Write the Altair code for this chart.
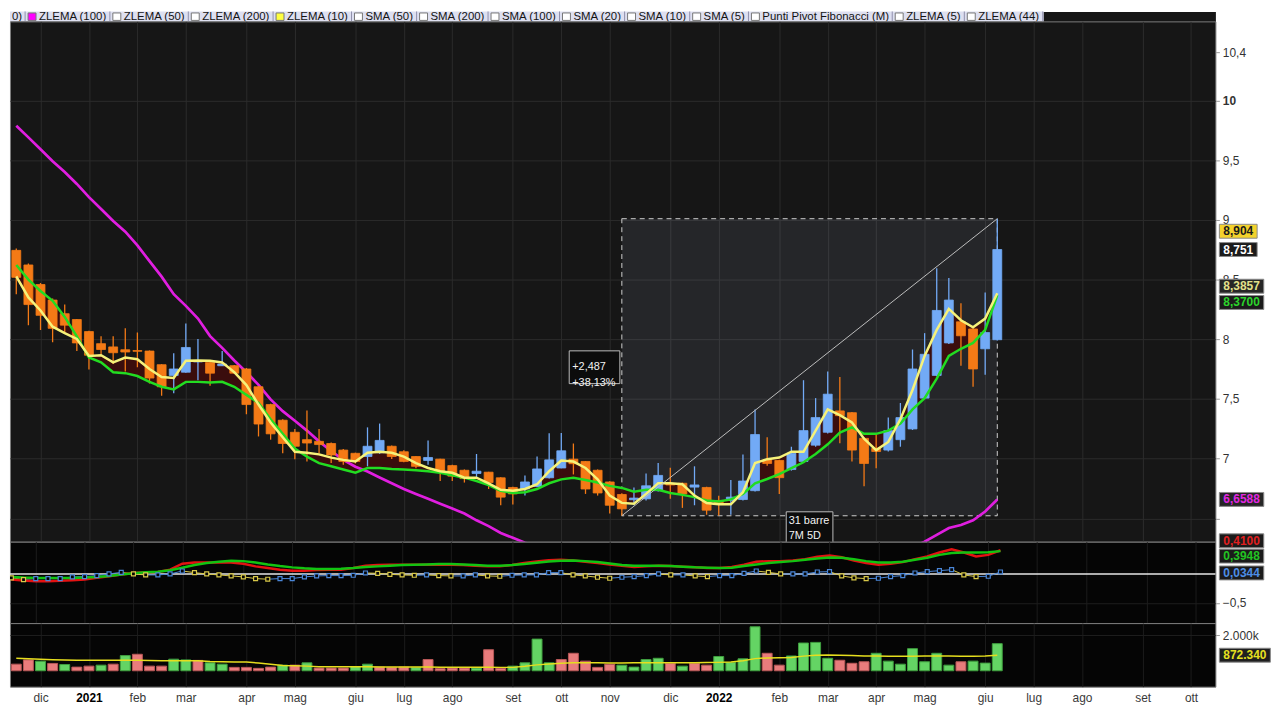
import altair as alt
import pandas as pd

# ---------------- data (weekly bars, first bar = week of 2020-11-23) ----------------
START_MONDAY = "2020-11-23"
N_AXIS_WEEKS = 99
MONTHS_IT = ["gen", "feb", "mar", "apr", "mag", "giu", "lug", "ago", "set", "ott", "nov", "dic"]

opens = [8.744, 8.622, 8.458, 8.328, 8.214, 8.165, 8.064, 7.963, 7.936, 7.912,
         7.905, 7.901, 7.787, 7.697, 7.724, 7.810, 7.806, 7.778, 7.779, 7.751,
         7.602, 7.453, 7.322, 7.221, 7.159, 7.145, 7.127, 7.072, 7.045, 7.018,
         7.050, 7.104, 7.058, 7.018, 6.985, 6.996, 6.942, 6.903, 6.876, 6.887,
         6.840, 6.759, 6.746, 6.767, 6.840, 6.922, 6.996, 6.977, 6.903, 6.805,
         6.700, 6.656, 6.664, 6.732, 6.790, 6.794, 6.762, 6.759, 6.650, 6.650,
         6.658, 6.732, 6.990, 6.985, 6.909, 6.977, 7.113, 7.221, 7.400, 7.385,
         7.170, 7.086, 7.072, 7.159, 7.249, 7.507, 7.697, 7.969, 8.146, 8.086,
         7.920, 7.996]
highs = [8.760, 8.635, 8.470, 8.340, 8.290, 8.170, 8.070, 8.024, 8.024, 8.091,
         8.056, 7.905, 7.790, 7.882, 8.132, 8.002, 7.810, 7.901, 7.785, 7.760,
         7.610, 7.460, 7.330, 7.248, 7.404, 7.249, 7.135, 7.080, 7.050, 7.262,
         7.294, 7.110, 7.070, 7.020, 7.153, 7.000, 6.950, 6.910, 7.039, 6.890,
         6.845, 6.765, 6.860, 7.018, 7.213, 7.216, 7.127, 6.980, 6.910, 6.810,
         6.710, 6.759, 6.876, 6.963, 6.923, 6.800, 6.936, 6.765, 6.690, 6.822,
         7.036, 7.412, 7.180, 6.990, 7.100, 7.657, 7.507, 7.730, 7.684, 7.390,
         7.180, 7.210, 7.344, 7.466, 7.914, 8.051, 8.594, 8.513, 8.301, 8.090,
         8.391, 9.009]
lows = [8.377, 8.118, 8.078, 7.975, 8.051, 7.901, 7.746, 7.874, 7.792, 7.730,
        7.765, 7.629, 7.526, 7.547, 7.720, 7.657, 7.610, 7.775, 7.710, 7.371,
        7.186, 7.159, 7.045, 6.996, 6.977, 7.045, 6.963, 6.949, 6.960, 6.936,
        7.040, 6.997, 6.970, 6.920, 6.949, 6.813, 6.813, 6.800, 6.840, 6.746,
        6.610, 6.616, 6.691, 6.760, 6.835, 6.920, 6.868, 6.705, 6.691, 6.542,
        6.522, 6.610, 6.650, 6.725, 6.664, 6.588, 6.610, 6.530, 6.525, 6.530,
        6.650, 6.725, 6.940, 6.705, 6.900, 6.970, 7.100, 7.210, 7.130, 6.977,
        6.770, 6.920, 7.060, 7.100, 7.240, 7.500, 7.690, 7.960, 7.779, 7.602,
        7.702, 7.990]
closes = [8.518, 8.290, 8.200, 8.091, 8.118, 7.969, 7.866, 7.914, 7.887, 7.893,
          7.899, 7.675, 7.602, 7.751, 7.931, 7.820, 7.716, 7.792, 7.716, 7.453,
          7.290, 7.208, 7.127, 7.104, 7.131, 7.118, 7.031, 6.977, 6.977, 7.104,
          7.153, 7.018, 6.977, 6.936, 7.010, 6.895, 6.854, 6.833, 6.895, 6.800,
          6.678, 6.705, 6.805, 6.914, 6.990, 7.066, 6.958, 6.746, 6.713, 6.610,
          6.580, 6.670, 6.773, 6.860, 6.780, 6.705, 6.780, 6.569, 6.623, 6.678,
          6.813, 7.202, 6.960, 6.841, 7.045, 7.235, 7.344, 7.540, 7.360, 7.072,
          6.960, 7.060, 7.235, 7.344, 7.751, 7.874, 8.241, 8.328, 8.029, 7.751,
          8.056, 8.751]
zlema10 = [8.526, 8.350, 8.241, 8.105, 8.051, 8.002, 7.860, 7.866, 7.806, 7.847,
           7.833, 7.751, 7.684, 7.675, 7.820, 7.822, 7.820, 7.806, 7.724, 7.616,
           7.453, 7.303, 7.180, 7.058, 7.050, 7.036, 7.009, 6.990, 6.976, 7.050,
           7.058, 7.050, 7.017, 6.963, 6.922, 6.895, 6.882, 6.841, 6.841, 6.794,
           6.740, 6.732, 6.746, 6.786, 6.895, 6.985, 6.976, 6.922, 6.827, 6.691,
           6.630, 6.623, 6.705, 6.794, 6.794, 6.786, 6.691, 6.629, 6.618, 6.618,
           6.719, 6.963, 6.996, 7.009, 7.058, 7.058, 7.235, 7.412, 7.365, 7.303,
           7.167, 7.072, 7.140, 7.330, 7.575, 7.860, 8.078, 8.254, 8.159, 8.100,
           8.173, 8.3857]
zlema44 = [8.622, 8.499, 8.404, 8.322, 8.187, 8.024, 7.847, 7.806, 7.724, 7.716,
           7.692, 7.643, 7.602, 7.580, 7.643, 7.643, 7.637, 7.643, 7.602, 7.534,
           7.466, 7.330, 7.208, 7.085, 7.017, 6.963, 6.936, 6.909, 6.882, 6.922,
           6.922, 6.914, 6.909, 6.903, 6.895, 6.882, 6.860, 6.841, 6.813, 6.778,
           6.732, 6.713, 6.719, 6.746, 6.794, 6.827, 6.841, 6.822, 6.800, 6.772,
           6.755, 6.723, 6.740, 6.740, 6.713, 6.697, 6.678, 6.650, 6.642, 6.659,
           6.705, 6.794, 6.830, 6.870, 6.920, 6.970, 7.040, 7.120, 7.219, 7.262,
           7.208, 7.208, 7.235, 7.294, 7.412, 7.507, 7.670, 7.860, 7.920, 7.969,
           8.078, 8.3700]
# ZLEMA(100): None where the line runs below the visible price panel
zlema100 = [9.788, 9.690, 9.590, 9.490, 9.400, 9.300, 9.190, 9.090, 8.990, 8.900,
            8.785, 8.654, 8.524, 8.377, 8.279, 8.173, 8.026, 7.928, 7.822, 7.724,
            7.618, 7.496, 7.398, 7.317, 7.235, 7.145, 7.064, 6.990, 6.933, 6.892,
            6.843, 6.794, 6.746, 6.705, 6.664, 6.623, 6.582, 6.541, 6.484, 6.435,
            6.378, 6.337, 6.297, 6.260] + [None] * 30 + \
           [6.256, 6.305, 6.362, 6.419, 6.444, 6.484, 6.558, 6.6588]
macd_red = [-0.096, -0.113, -0.125, -0.125, -0.119, -0.108, -0.096, -0.068, -0.039, -0.011,
            0.017, 0.029, 0.034, 0.074, 0.177, 0.199, 0.199, 0.199, 0.199, 0.177,
            0.131, 0.103, 0.074, 0.057, 0.057, 0.069, 0.074, 0.074, 0.103, 0.142,
            0.154, 0.160, 0.160, 0.160, 0.160, 0.160, 0.160, 0.154, 0.142, 0.131,
            0.131, 0.154, 0.188, 0.217, 0.239, 0.245, 0.233, 0.211, 0.188, 0.165,
            0.142, 0.120, 0.131, 0.142, 0.137, 0.126, 0.114, 0.103, 0.103, 0.120,
            0.160, 0.211, 0.222, 0.222, 0.233, 0.256, 0.296, 0.319, 0.290, 0.233,
            0.188, 0.160, 0.177, 0.205, 0.256, 0.302, 0.370, 0.427, 0.370, 0.302,
            0.330, 0.410]
macd_green = [-0.051, -0.062, -0.068, -0.068, -0.068, -0.068, -0.062, -0.051, -0.034, -0.011,
              0.012, 0.029, 0.040, 0.063, 0.108, 0.154, 0.188, 0.211, 0.228, 0.222,
              0.199, 0.165, 0.137, 0.114, 0.097, 0.086, 0.086, 0.091, 0.103, 0.120,
              0.131, 0.142, 0.154, 0.160, 0.165, 0.171, 0.171, 0.165, 0.154, 0.142,
              0.142, 0.154, 0.171, 0.194, 0.217, 0.228, 0.233, 0.222, 0.205, 0.182,
              0.154, 0.142, 0.142, 0.142, 0.137, 0.126, 0.114, 0.108, 0.103, 0.108,
              0.137, 0.165, 0.188, 0.205, 0.222, 0.245, 0.268, 0.285, 0.279, 0.256,
              0.222, 0.199, 0.199, 0.211, 0.245, 0.279, 0.330, 0.364, 0.370, 0.370,
              0.376, 0.3948]
macd_hist = [-0.068, -0.097, -0.080, -0.080, -0.080, -0.051, -0.046, -0.028, 0.000, 0.028,
             0.000, -0.017, -0.017, 0.000, 0.051, 0.023, 0.000, -0.017, -0.034, -0.051,
             -0.080, -0.091, -0.080, -0.080, -0.051, -0.034, -0.028, -0.028, -0.023, 0.017,
             0.011, -0.006, -0.017, -0.023, -0.017, -0.028, -0.034, -0.034, -0.017, -0.034,
             -0.040, -0.023, -0.017, -0.017, 0.023, 0.023, -0.017, -0.034, -0.057, -0.074,
             -0.057, -0.046, -0.028, 0.000, -0.017, -0.017, -0.034, -0.046, -0.028, -0.028,
             0.011, 0.051, 0.028, 0.000, 0.000, 0.000, 0.034, 0.040, -0.034, -0.068,
             -0.080, -0.074, -0.046, -0.028, 0.017, 0.040, 0.057, 0.074, -0.017, -0.046,
             -0.040, 0.0344]
volume_k = [370, 610, 540, 410, 350, 205, 260, 315, 370, 850,
            925, 260, 260, 650, 610, 580, 445, 370, 190, 190,
            135, 205, 315, 315, 445, 150, 150, 150, 240, 370,
            205, 190, 205, 190, 630, 120, 150, 150, 150, 1180,
            140, 260, 445, 1775, 445, 630, 980, 540, 190, 370,
            315, 205, 630, 700, 420, 260, 420, 315, 800, 465,
            670, 2465, 980, 315, 830, 1555, 1590, 700, 590, 420,
            505, 980, 540, 370, 1240, 505, 980, 315, 505, 540,
            430, 1520]
volume_dir = list("RRGRGRRGRG" "RRRGGRGGRR" "RRGRGRRRGG" "RRRGRRRRGR" "RGGGGRRRRR"
                  "GGGGRGRRGG" "GGRRGGGGRR" "RGGGGGGGRG" "GG")
volume_ma_k = [705, 680, 650, 620, 600, 590, 590, 590, 590, 590,
               590, 570, 560, 560, 555, 555, 520, 500, 490, 490,
               430, 360, 300, 280, 260, 230, 220, 220, 220, 220,
               215, 210, 210, 210, 210, 200, 200, 200, 200, 200,
               190, 190, 250, 330, 380, 420, 445, 450, 445, 440,
               440, 445, 450, 450, 450, 450, 450, 460, 470, 490,
               560, 680, 720, 730, 750, 820, 870, 880, 870, 850,
               830, 830, 820, 820, 820, 830, 830, 830, 820, 820,
               830, 872.34]
marker_price = 8.904
MEASURE_FROM, MEASURE_TO = 50, 81
MEASURE_SPAN = "7M 5D"

legend_labels = ["0)", "ZLEMA (100)", "ZLEMA (50)", "ZLEMA (200)", "ZLEMA (10)", "SMA (50)",
                 "SMA (200)", "SMA (100)", "SMA (20)", "SMA (10)", "SMA (5)",
                 "Punti Pivot Fibonacci (M)", "ZLEMA (5)", "ZLEMA (44)"]
legend_swatch = ["", "#ff00ff", "#ffffff", "#ffffff", "#ffff40", "#ffffff", "#ffffff",
                 "#ffffff", "#ffffff", "#ffffff", "#ffffff", "#ffffff", "#ffffff", "#ffffff"]

N = len(closes)
for arr in (opens, highs, lows, zlema10, zlema44, zlema100, macd_red, macd_green,
            macd_hist, volume_k, volume_dir, volume_ma_k):
    assert len(arr) == N, len(arr)

# ---------------- styling constants ----------------
W = 1214
H_LEG, H_MAIN, H_IND, H_VOL = 10, 524, 82, 64
FONT = "Liberation Sans"
LEG_FS = 11.5
BLUE, ORANGE = "#72aaf6", "#f47a16"
MAG, YEL, GRN = "#e01ee0", "#f6f27a", "#22dc22"

CW = {"Z": 611, "L": 556, "E": 667, "M": 833, "A": 667, " ": 278, "(": 333, ")": 333,
      "S": 667, "P": 667, "u": 556, "n": 556, "t": 278, "i": 222, "v": 500, "o": 556,
      "F": 611, "b": 556, "a": 556, "c": 500, ",": 278, ".": 278, "-": 333, "%": 889}


def text_w(s, size):
    return sum(CW.get(c, 556) for c in s) * size / 1000.0


def it(v, d):
    return f"{v:.{d}f}".replace(".", ",")


# ---------------- x axis (weekly index, month ticks) ----------------
dates = pd.date_range(START_MONDAY, periods=N_AXIS_WEEKS, freq="7D")
tick_idx = [k for k in range(1, N_AXIS_WEEKS) if dates[k].month != dates[k - 1].month]
tick_txt = [""] * N_AXIS_WEEKS
year_idx = []
for k in tick_idx:
    if dates[k].month == 1:
        tick_txt[k] = str(dates[k].year)
        year_idx.append(k)
    else:
        tick_txt[k] = MONTHS_IT[dates[k].month - 1]
label_expr = "[" + ",".join(f"'{t}'" for t in tick_txt) + "][datum.value]"
year_test = " || ".join(f"datum.value == {k}" for k in year_idx)

X_DOM = [-0.11, 98.6]
xs = alt.Scale(domain=X_DOM, nice=False, zero=False)


def xaxis(grid_color, labels=False):
    if labels:
        return alt.Axis(values=tick_idx, grid=True, gridColor=grid_color, ticks=False, domain=False,
                        labelExpr=label_expr, labelFontSize=12, labelFont=FONT,
                        labelColor={"condition": {"test": year_test, "value": "#000000"}, "value": "#3a3a3a"},
                        labelFontWeight={"condition": {"test": year_test, "value": "bold"}, "value": "normal"},
                        labelPadding=6, labelFlush=False, labelOverlap=False)
    return alt.Axis(values=tick_idx, grid=True, gridColor=grid_color, ticks=False, domain=False, labels=False)


def cond(test, a, b):
    return alt.condition(test, alt.value(a), alt.value(b))


# ---------------- legend strip ----------------
leg_rows, box_rows, div_rows = [], [], []
cx = 2.0
for lab, sw in zip(legend_labels, legend_swatch):
    if sw:
        bx = cx + 3
        box_rows.append({"bx": bx, "bx2": bx + 8, "fill": sw})
        tx = bx + 8 + 3
    else:
        tx = cx
    leg_rows.append({"label": lab, "tx": tx})
    cx = tx + text_w(lab, LEG_FS) + 3
    div_rows.append({"dx": cx})
leg_df = pd.DataFrame(leg_rows)
box_df = pd.DataFrame(box_rows)
div_df = pd.DataFrame(div_rows)
leg_scale = alt.Scale(domain=[0, W], nice=False, zero=False)


def LX(f):
    return alt.X(f"{f}:Q", scale=leg_scale, axis=None, title=None)


leg_bg = alt.Chart(pd.DataFrame({"a": [0.0], "b": [cx + 1]})).mark_rect(fill="#dddff0").encode(
    x=LX("a"), x2="b:Q", y=alt.value(0), y2=alt.value(H_LEG))
leg_div = alt.Chart(div_df).mark_rule(color="#9090ac", strokeWidth=1).encode(
    x=LX("dx"), y=alt.value(0), y2=alt.value(H_LEG))
leg_box = alt.Chart(box_df).mark_rect(stroke="#777777", strokeWidth=1).encode(
    x=LX("bx"), x2="bx2:Q", y=alt.value(1.5), y2=alt.value(9), fill=alt.Fill("fill:N", scale=None))
leg_txt = alt.Chart(leg_df).mark_text(align="left", baseline="alphabetic", fontSize=LEG_FS, color="#141414",
                                      font=FONT, clip=True).encode(
    x=LX("tx"), y=alt.value(9), text="label:N")
legend = alt.layer(leg_bg, leg_div, leg_box, leg_txt).properties(
    width=W, height=H_LEG, view=alt.ViewBackground(fill="#161616", stroke="transparent"))

# ---------------- price panel ----------------
idx = list(range(N))
df = pd.DataFrame(dict(i=idx, open=opens, high=highs, low=lows, close=closes,
                       yel=zlema10, grn=zlema44))
mag_df = pd.DataFrame([{"i": k, "v": v, "seg": 0 if k < 60 else 1}
                       for k, v in enumerate(zlema100) if v is not None])

ysm = alt.Scale(domain=[6.305, 10.661], nice=False, zero=False)
yaxis_main = alt.Axis(orient="right", values=[6.5, 7, 7.5, 8, 8.5, 9, 9.5, 10, 10.4],
                      labelExpr="datum.value == 6.5 ? '' : replace(format(datum.value, '.1~f'), '.', ',')",
                      grid=True,
                      gridColor={"condition": {"test": "datum.value == 10.4", "value": "transparent"},
                                 "value": "#2b2b2b"},
                      domain=False, tickSize=4, tickColor="#9a9a9a", labelColor="#333333",
                      labelFontSize=12, labelFont=FONT, labelPadding=3, labelOverlap=False,
                      labelFontWeight={"condition": {"test": "datum.value == 10", "value": "bold"},
                                       "value": "normal"})
xaxis_main = xaxis("#2b2b2b")


def Xm(f="i"):
    return alt.X(f"{f}:Q", scale=xs, axis=xaxis_main, title=None)


def Ym(f):
    return alt.Y(f"{f}:Q", scale=ysm, axis=yaxis_main, title=None)


def tag_layers(value, text, bg, fg, dy, Yfun):
    d = pd.DataFrame({"v": [value], "t": [text]})
    w = text_w(text, 12) + 8
    c = alt.Chart(d)
    box = c.mark_rect(fill=bg, stroke="#8a8a8a", strokeWidth=1,
                      yOffset=dy - 7, y2Offset=dy + 7).encode(
        x=alt.value(W + 4), x2=alt.value(W + 4 + w), y=Yfun("v"), y2="v:Q")
    txt = c.mark_text(align="left", baseline="middle", dy=dy, fontSize=12, fontWeight="bold",
                      color=fg, font=FONT).encode(x=alt.value(W + 8), y=Yfun("v"), text="t:N")
    return [box, txt]


lo, hi = lows[MEASURE_FROM], highs[MEASURE_TO]
diff = hi - lo
meas = pd.DataFrame({"x1": [MEASURE_FROM], "x2": [MEASURE_TO], "lo": [lo], "hi": [hi],
                     "mid": [(lo + hi) / 2], "xm": [(MEASURE_FROM + MEASURE_TO) / 2],
                     "t1": ["+" + it(diff, 3) + "\n+" + it(diff / lo * 100, 2) + "%"],
                     "t2": [f"{MEASURE_TO - MEASURE_FROM} barre\n{MEASURE_SPAN}"]})
mc = alt.Chart(meas)
meas_box = mc.mark_rect(fill="#b4b8d8", fillOpacity=0.1, stroke="#cfcfcf", strokeWidth=1,
                        strokeDash=[5, 4]).encode(x=Xm("x1"), x2="x2:Q", y=Ym("lo"), y2="hi:Q")
diag = mc.mark_rule(color="#bdbdbd", strokeWidth=1).encode(x=Xm("x1"), x2="x2:Q", y=Ym("lo"), y2="hi:Q")
pct_box = mc.mark_rect(fill="#0c0c0c", stroke="#bcbcbc", strokeWidth=1, xOffset=-53, x2Offset=-2,
                       yOffset=-16.5, y2Offset=16.5).encode(x=Xm("x1"), x2="x1:Q", y=Ym("mid"), y2="mid:Q")
pct_txt = mc.mark_text(align="left", baseline="middle", lineBreak="\n", lineHeight=16, fontSize=11,
                       color="#f2f2f2", font=FONT, xOffset=-50).encode(x=Xm("x1"), y=Ym("mid"), text="t1:N")
bar_box = mc.mark_rect(fill="#0c0c0c", stroke="#bcbcbc", strokeWidth=1, xOffset=-23.5, x2Offset=23.5,
                       yOffset=-4, y2Offset=30, clip=True).encode(x=Xm("xm"), x2="xm:Q", y=Ym("lo"), y2="lo:Q")
bar_txt = mc.mark_text(align="left", baseline="top", lineBreak="\n", lineHeight=15, fontSize=11,
                       color="#f2f2f2", font=FONT, xOffset=-21, yOffset=-1, clip=True).encode(
    x=Xm("xm"), y=Ym("lo"), text="t2:N")

base = alt.Chart(df)
is_up = "datum.close >= datum.open"
fill_between = base.mark_area(color="#3c0d0d", opacity=0.95).encode(x=Xm(), y=Ym("grn"), y2="yel:Q")
mag_line = alt.Chart(mag_df).mark_line(color=MAG, strokeWidth=2.7, clip=True).encode(
    x=Xm(), y=Ym("v"), detail="seg:N")
wicks = base.mark_rule(strokeWidth=1.3, clip=True).encode(
    x=Xm(), y=Ym("low"), y2="high:Q", color=cond(is_up, BLUE, ORANGE))
bodies = base.mark_bar(size=9, strokeWidth=0.8, clip=True).encode(
    x=Xm(), y=Ym("open"), y2="close:Q", color=cond(is_up, BLUE, ORANGE), stroke=cond(is_up, BLUE, ORANGE))
grn_line = base.mark_line(color=GRN, strokeWidth=2.5, clip=True).encode(x=Xm(), y=Ym("grn"))
yel_line = base.mark_line(color=YEL, strokeWidth=2.5, clip=True).encode(x=Xm(), y=Ym("yel"))

main_tags = (tag_layers(marker_price, it(marker_price, 3), "#f3d22c", "#1a1a1a", 0, Ym)
             + tag_layers(closes[-1], it(closes[-1], 3), "#1b1b1b", "#ffffff", 0, Ym)
             + tag_layers(zlema10[-1], it(zlema10[-1], 4), "#262626", "#e2e08a", -7, Ym)
             + tag_layers(zlema44[-1], it(zlema44[-1], 4), "#1b1b1b", "#2bd42b", 7.5, Ym)
             + tag_layers(zlema100[-1], it(zlema100[-1], 4), "#262626", "#e028e0", 0, Ym))

main = alt.layer(meas_box, fill_between, mag_line, wicks, bodies, grn_line, yel_line, diag,
                 pct_box, pct_txt, bar_box, bar_txt, *main_tags).properties(
    width=W, height=H_MAIN, view=alt.ViewBackground(fill="#161616", stroke="#7d7d7d", strokeWidth=1))

# ---------------- oscillator panel ----------------
ysi = alt.Scale(domain=[-0.85, 0.558], nice=False, zero=False)
yaxis_ind = alt.Axis(orient="right", values=[-0.5],
                     labelExpr="replace(format(datum.value, '.1f'), '.', ',')",
                     grid=True, gridColor="#1e1e1e", domain=False, tickSize=4, tickColor="#9a9a9a",
                     labelColor="#333333", labelFontSize=12, labelFont=FONT, labelPadding=3)
xaxis_low = xaxis("#1c1c1c")


def Xi(f="i"):
    return alt.X(f"{f}:Q", scale=xs, axis=xaxis_low, title=None)


def Yi(f):
    return alt.Y(f"{f}:Q", scale=ysi, axis=yaxis_ind, title=None)


mk_dir = ["dn"] + ["up" if macd_hist[k] >= macd_hist[k - 1] else "dn" for k in range(1, N)]
ind_df = pd.DataFrame(dict(i=idx, red=macd_red, grn=macd_green, h=macd_hist, dir=mk_dir))
seg_df = pd.DataFrame(dict(i=idx[:-1], i2=idx[1:], h=macd_hist[:-1], h2=macd_hist[1:], dir=mk_dir[1:]))
is_rise = "datum.dir == 'up'"

zero_line = alt.Chart(pd.DataFrame({"z": [0.0]})).mark_rule(color="#e6e6e6", strokeWidth=1.6).encode(y=Yi("z"))
hist_seg = alt.Chart(seg_df).mark_rule(strokeWidth=1, clip=True).encode(
    x=Xi("i"), x2="i2:Q", y=Yi("h"), y2="h2:Q", color=cond(is_rise, "#4a86d8", "#d8c848"))
hist_pts = alt.Chart(ind_df).mark_point(shape="square", filled=False, fill="#050505", fillOpacity=1,
                                        size=16, strokeWidth=1.2, clip=True).encode(
    x=Xi(), y=Yi("h"), color=cond(is_rise, "#4a86d8", "#d8c848"))
red_line = alt.Chart(ind_df).mark_line(color="#e41212", strokeWidth=2.5, clip=True).encode(x=Xi(), y=Yi("red"))
g_line = alt.Chart(ind_df).mark_line(color="#12c412", strokeWidth=2.5, clip=True).encode(x=Xi(), y=Yi("grn"))
ind_tags = (tag_layers(macd_red[-1], it(macd_red[-1], 4), "#1b1b1b", "#e02020", -9.5, Yi)
            + tag_layers(macd_green[-1], it(macd_green[-1], 4), "#1b1b1b", "#22c422", 5, Yi)
            + tag_layers(macd_hist[-1], it(macd_hist[-1], 4), "#1b1b1b", "#4d8ee6", 1, Yi))
ind = alt.layer(zero_line, hist_seg, red_line, g_line, hist_pts, *ind_tags).properties(
    width=W, height=H_IND, view=alt.ViewBackground(fill="#050505", stroke="#7d7d7d", strokeWidth=1))

# ---------------- volume panel ----------------
ysv = alt.Scale(domain=[-890, 2670], nice=False, zero=False)
yaxis_vol = alt.Axis(orient="right", values=[2000],
                     labelExpr="replace(format(datum.value, ','), ',', '.') + 'k'",
                     grid=True, gridColor="#1e1e1e", domain=False, tickSize=4, tickColor="#9a9a9a",
                     labelColor="#333333", labelFontSize=12, labelFont=FONT, labelPadding=3)
xaxis_vol = xaxis("#1c1c1c", labels=True)


def Xv(f="i"):
    return alt.X(f"{f}:Q", scale=xs, axis=xaxis_vol, title=None)


def Yv(f):
    return alt.Y(f"{f}:Q", scale=ysv, axis=yaxis_vol, title=None)


vol_df = pd.DataFrame(dict(i=idx, v=volume_k, dir=volume_dir, ma=volume_ma_k))
is_g = "datum.dir == 'G'"
vbars = alt.Chart(vol_df).mark_bar(size=10, strokeWidth=1, clip=True).encode(
    x=Xv(), y=Yv("v"), color=cond(is_g, "#64d464", "#e97c7c"), stroke=cond(is_g, "#3e9e3e", "#b85858"))
vma = alt.Chart(vol_df).mark_line(color="#e6de1e", strokeWidth=1.5, clip=True).encode(x=Xv(), y=Yv("ma"))
ma_txt = f"{volume_ma_k[-1] * 1000:,.0f}".replace(",", ".")
vol_tags = tag_layers(volume_ma_k[-1], ma_txt, "#1f1f1f", "#e6e020", 0, Yv)
vol = alt.layer(vbars, vma, *vol_tags).properties(
    width=W, height=H_VOL, view=alt.ViewBackground(fill="#050505", stroke="#7d7d7d", strokeWidth=1))

chart = alt.vconcat(legend, main, ind, vol, spacing=0, bounds="flush").properties(
    padding=0, background="#ffffff").configure(font=FONT)

chart.save("out.html", embed_options={"renderer": "svg", "actions": False})
